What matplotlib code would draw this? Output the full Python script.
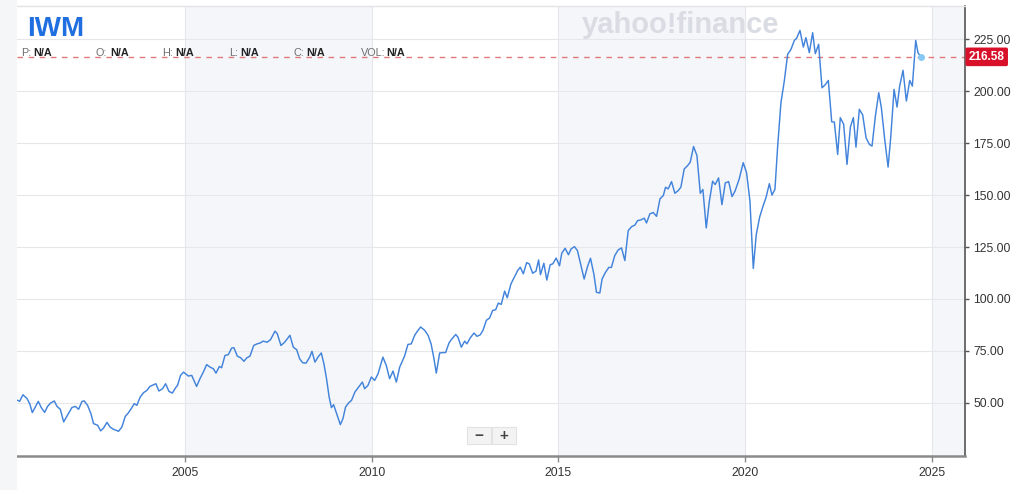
import numpy as np
import matplotlib
matplotlib.use("Agg")
import matplotlib.pyplot as plt
from matplotlib.patches import Rectangle
from matplotlib.ticker import FormatStrFormatter
import matplotlib.transforms as mtransforms

plt.rcParams["font.family"] = ["Liberation Sans", "DejaVu Sans"]

# ── Data ─────────────────────────────────────────────────────
ticker = "IWM"
last_price = 216.58

years = [
    2000.52, 2000.57, 2000.66, 2000.77, 2000.84, 2000.91, 2000.99, 2001.07, 2001.15, 2001.24,
    2001.32, 2001.40, 2001.50, 2001.57, 2001.66, 2001.75, 2001.85, 2001.97, 2002.06, 2002.15,
    2002.24, 2002.30, 2002.39, 2002.48, 2002.55, 2002.66, 2002.74, 2002.82, 2002.91, 2002.99,
    2003.08, 2003.22, 2003.31, 2003.40, 2003.48, 2003.57, 2003.64, 2003.71, 2003.80, 2003.89,
    2003.98, 2004.06, 2004.22, 2004.30, 2004.40, 2004.48, 2004.57, 2004.66, 2004.75, 2004.80,
    2004.88, 2004.96,
    2005.09, 2005.18, 2005.24, 2005.31, 2005.40, 2005.49, 2005.58, 2005.67, 2005.76, 2005.83,
    2005.92, 2005.98, 2006.07, 2006.16, 2006.25, 2006.31, 2006.40, 2006.49, 2006.58, 2006.65,
    2006.74, 2006.84, 2006.93, 2007.01, 2007.09, 2007.20, 2007.29, 2007.41, 2007.47, 2007.57,
    2007.67, 2007.81, 2007.90, 2007.99, 2008.07, 2008.15, 2008.24, 2008.34, 2008.40, 2008.48,
    2008.56, 2008.65, 2008.72, 2008.79, 2008.86, 2008.92, 2008.98, 2009.06, 2009.16, 2009.23,
    2009.30, 2009.38, 2009.46, 2009.55, 2009.63,
    2009.75, 2009.81, 2009.90, 2009.99, 2010.08, 2010.17, 2010.30, 2010.39, 2010.48, 2010.57,
    2010.66, 2010.75, 2010.88, 2010.97, 2011.06, 2011.15, 2011.24, 2011.31, 2011.42, 2011.51,
    2011.59, 2011.66, 2011.73, 2011.82, 2011.91, 2011.98, 2012.07, 2012.13, 2012.25, 2012.31,
    2012.40, 2012.49, 2012.55, 2012.64, 2012.74, 2012.82, 2012.91, 2012.98, 2013.07, 2013.16,
    2013.24, 2013.32, 2013.39, 2013.47, 2013.56, 2013.63, 2013.73, 2013.82, 2013.91, 2013.98,
    2014.06, 2014.15, 2014.22, 2014.31, 2014.40, 2014.47,
    2014.52, 2014.61, 2014.69, 2014.78, 2014.85, 2014.94, 2015.03, 2015.09, 2015.18, 2015.27,
    2015.34, 2015.43, 2015.51, 2015.60, 2015.69, 2015.78, 2015.86, 2015.95, 2016.02, 2016.11,
    2016.17, 2016.26, 2016.35, 2016.42, 2016.51, 2016.60, 2016.69, 2016.78, 2016.87, 2016.96,
    2017.05, 2017.12, 2017.21, 2017.30, 2017.36, 2017.45, 2017.54, 2017.63, 2017.72, 2017.81,
    2017.87, 2017.94, 2018.03, 2018.12, 2018.21, 2018.28, 2018.37, 2018.46, 2018.53, 2018.62,
    2018.71, 2018.80, 2018.87, 2018.96, 2019.04, 2019.13, 2019.20, 2019.29, 2019.38, 2019.47,
    2019.56, 2019.65, 2019.73,
    2019.84, 2019.95, 2020.04, 2020.13, 2020.22, 2020.30, 2020.39, 2020.48, 2020.56, 2020.65,
    2020.72, 2020.80, 2020.87, 2020.96, 2021.05, 2021.14, 2021.23, 2021.32, 2021.38, 2021.47,
    2021.56, 2021.63, 2021.72, 2021.81, 2021.88, 2021.97, 2022.06, 2022.14, 2022.23, 2022.32,
    2022.39, 2022.48, 2022.55, 2022.64, 2022.73, 2022.82, 2022.90, 2022.97, 2023.06, 2023.15,
    2023.24, 2023.33, 2023.40, 2023.49, 2023.58, 2023.65, 2023.74, 2023.83, 2023.90, 2023.99,
    2024.07, 2024.14, 2024.23, 2024.32, 2024.41, 2024.48, 2024.57, 2024.63, 2024.70,
]

prices = [
    51.2, 50.7, 53.9, 52.0, 49.6, 45.3, 48.0, 50.7, 47.7, 45.4,
    48.3, 49.9, 50.9, 48.3, 46.9, 40.8, 44.0, 47.7, 48.3, 46.9,
    50.7, 50.9, 48.8, 44.8, 40.0, 39.2, 36.5, 37.9, 40.6, 38.4,
    37.3, 36.3, 38.4, 43.5, 45.1, 47.5, 49.6, 48.8, 52.8, 54.9,
    56.0, 57.9, 59.2, 55.7, 56.8, 59.2, 55.5, 54.7, 57.3, 58.4,
    63.2, 64.8,
    62.9, 63.2, 60.8, 57.9, 61.6, 64.8, 68.4, 67.2, 66.4, 64.3,
    67.5, 66.9, 72.8, 73.2, 76.4, 76.5, 72.5, 71.7, 70.0, 71.6,
    72.5, 77.6, 78.4, 78.8, 79.7, 79.2, 80.4, 84.5, 83.3, 77.6,
    79.2, 82.5, 76.8, 75.6, 71.2, 69.3, 69.1, 72.0, 74.8, 69.6,
    72.0, 74.0, 68.8, 61.6, 52.8, 47.7, 49.1, 44.8, 39.5, 42.4,
    48.0, 49.9, 51.2, 55.2, 57.1,
    60.0, 56.8, 58.4, 62.4, 60.8, 64.0, 72.0, 68.0, 61.6, 65.3,
    60.0, 67.2, 72.5, 78.1, 78.4, 82.5, 84.9, 86.5, 84.9, 82.5,
    78.4, 72.0, 64.3, 74.0, 74.2, 74.2, 78.8, 80.4, 82.9, 81.6,
    76.8, 79.7, 78.4, 81.3, 83.6, 82.0, 82.8, 84.9, 89.7, 90.9,
    94.5, 94.8, 98.0, 97.4, 103.8, 100.6, 107.3, 110.5, 113.7, 115.3,
    112.1, 117.5, 116.9, 112.4, 113.4, 118.8,
    111.7, 117.2, 109.1, 116.5, 116.9, 119.7, 116.0, 122.0, 124.4, 121.3,
    124.1, 125.2, 123.3, 116.5, 109.6, 115.6, 119.6, 112.0, 103.2, 102.9,
    109.6, 112.8, 115.2, 115.2, 120.9, 123.6, 124.6, 118.5, 132.9, 134.8,
    135.6, 137.7, 138.1, 138.9, 136.6, 141.0, 141.6, 139.8, 148.2, 149.8,
    153.8, 153.0, 156.5, 150.9, 152.2, 153.8, 162.6, 164.2, 165.8, 173.4,
    169.1, 150.9, 152.7, 134.2, 146.6, 156.7, 155.1, 158.3, 145.4, 155.9,
    156.5, 149.3, 151.9,
    157.6, 165.6, 160.8, 147.1, 114.7, 131.1, 139.4, 144.7, 148.8, 155.5,
    150.0, 152.8, 172.8, 194.5, 204.9, 217.8, 220.2, 224.5, 225.5, 229.3,
    221.3, 225.8, 218.6, 228.2, 218.1, 222.6, 201.7, 203.0, 205.2, 185.3,
    185.2, 169.6, 187.3, 184.1, 164.8, 182.8, 187.3, 173.1, 191.3, 188.6,
    177.6, 174.4, 173.6, 188.1, 199.3, 192.1, 176.8, 163.5, 177.6, 200.9,
    192.4, 202.5, 210.1, 195.3, 205.2, 202.5, 224.5, 218.6, 216.58,
]

year_ticks = [2005, 2010, 2015, 2020, 2025]
price_ticks = [50, 75, 100, 125, 150, 175, 200, 225]
shaded_ranges = [(2005, 2010), (2015, 2020), (2025, 2030)]
quote_labels = ["P:", "O:", "H:", "L:", "C:", "VOL:"]
quote_values = ["N/A"] * 6

# ── Figure ───────────────────────────────────────────────────
W, H = 1024, 490
fig = plt.figure(figsize=(W / 100, H / 100), dpi=100, facecolor="white")
ax = fig.add_axes([17 / W, 34 / H, 948 / W, 450.3 / H])

# grey strip at the far left
fig.patches.append(Rectangle((0, 0), 17 / W, 1, transform=fig.transFigure,
                             facecolor="#f5f6f8", edgecolor="none", zorder=0))

for a, b in shaded_ranges:
    ax.axvspan(a, b, color="#f4f6fa", zorder=0, lw=0)

ax.plot(years, prices, color="#4283db", lw=1.05, zorder=3)
ax.plot(years[-1], prices[-1], "o", ms=5, color="#86c8f3", mec="none", zorder=4)

ax.axhline(last_price, color="#e07a7a", lw=1, ls=(0, (4, 4)), zorder=2)

ax.set_xlim(2000.50, 2025.89)
ax.set_ylim(24.4, 241.2)
ax.set_xticks(year_ticks)
ax.set_xticklabels([str(y) for y in year_ticks])
ax.set_yticks(price_ticks)
ax.yaxis.set_major_formatter(FormatStrFormatter("%.2f"))
ax.yaxis.tick_right()

ax.grid(True, color="#e6e7ea", lw=0.8, zorder=1)
ax.set_axisbelow(True)

ax.spines["left"].set_visible(False)
ax.spines["top"].set_color("#e2e3e6")
ax.spines["top"].set_linewidth(1)
ax.spines["right"].set_color("#555555")
ax.spines["right"].set_linewidth(1.2)
ax.spines["bottom"].set_color("#8a8a8a")
ax.spines["bottom"].set_linewidth(1.8)

ax.tick_params(axis="y", right=True, left=False, length=3, width=1,
               color="#555555", labelsize=8.8, labelcolor="#333333", pad=3)
ax.tick_params(axis="x", length=4, width=1, color="#8a8a8a",
               labelsize=8.8, labelcolor="#333333", pad=4)

# last-price tag
trans = mtransforms.blended_transform_factory(ax.transAxes, ax.transData)
ax.text(1.004, last_price, f"{last_price:.2f}", transform=trans, ha="left",
        va="center", color="white", fontsize=8.5, fontweight="bold",
        bbox=dict(boxstyle="round,pad=0.28,rounding_size=0.15",
                  fc="#d8102a", ec="none"), clip_on=False, zorder=6)

# ── Header texts ─────────────────────────────────────────────
fig.text(27 / W, 1 - 36 / H, ticker, fontsize=20, fontweight="bold",
         color="#1f6fe0", va="baseline")
fig.text(582 / W, 1 - 33 / H, "yahoo!finance", fontsize=21,
         fontweight="bold", color="#d9dce2", va="baseline", zorder=1)

label_x = [20.7, 95.7, 161.7, 229, 293, 360.7]
value_x = [33.0, 110.0, 175.0, 240.0, 306.0, 386.0]
for lx, vx, lab, val in zip(label_x, value_x, quote_labels, quote_values):
    fig.text(lx / W, 1 - 56 / H, lab, fontsize=7.8, color="#6f6f6f", va="baseline")
    fig.text(vx / W, 1 - 56 / H, val, fontsize=7.8, color="#222222",
             fontweight="bold", va="baseline")

# zoom buttons
for bx, sym in [(467, "\u2212"), (492, "+")]:
    fig.patches.append(Rectangle((bx / W, 1 - 444 / H), 24 / W, 17 / H,
                                 transform=fig.transFigure, facecolor="#f3f3f3",
                                 edgecolor="#e2e2e2", lw=0.8, zorder=5))
    fig.text((bx + 12) / W, 1 - 435.5 / H, sym, fontsize=11, fontweight="bold",
             color="#444444", ha="center", va="center", zorder=6)

fig.savefig("out.png", dpi=100, facecolor="white")
